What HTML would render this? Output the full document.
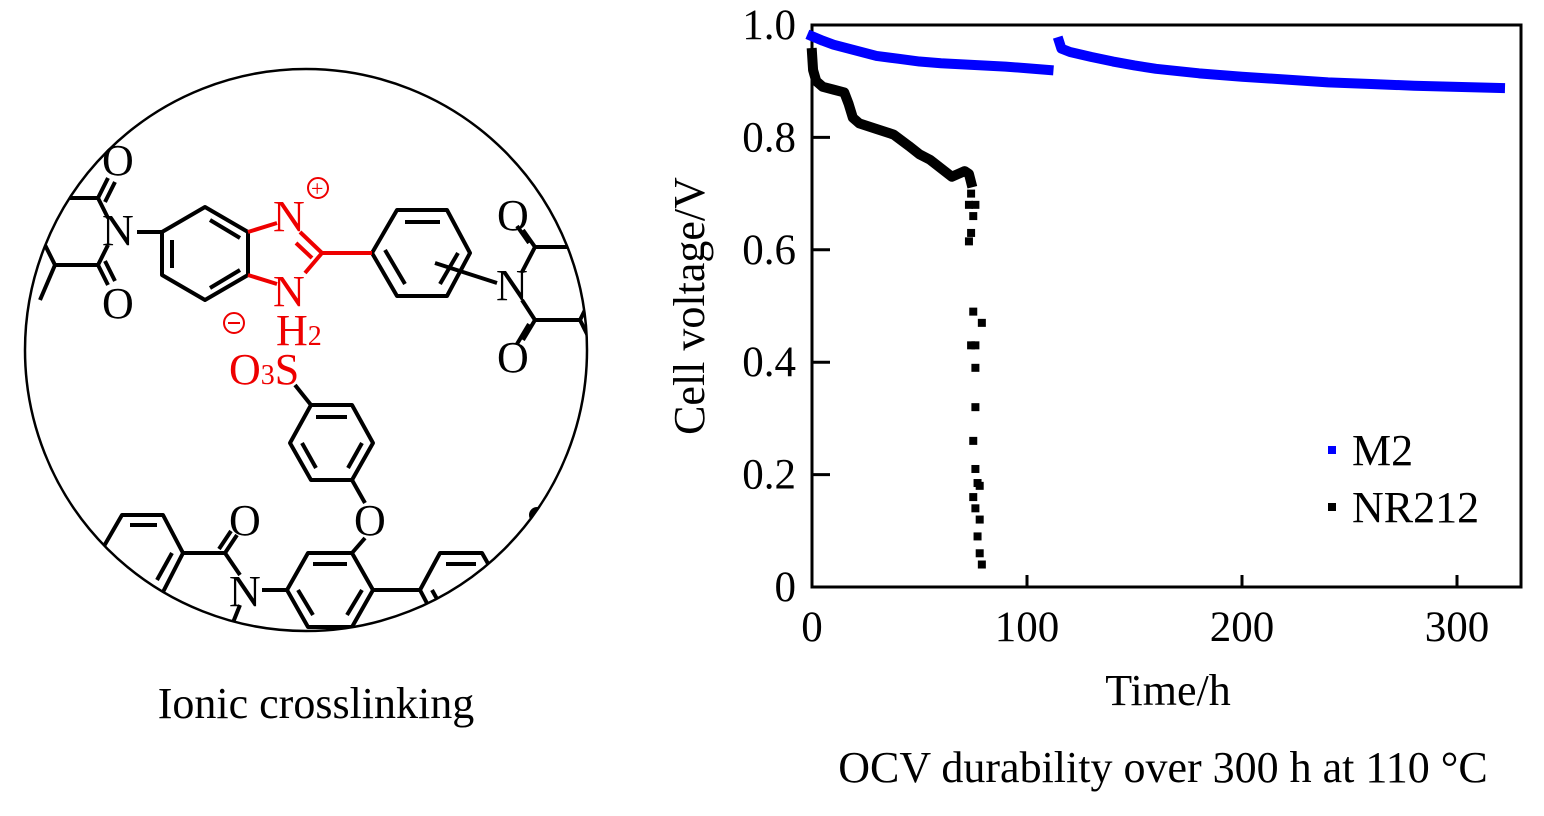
<!DOCTYPE html>
<html><head><meta charset="utf-8"><style>
body{margin:0;background:#fff;width:1544px;height:816px;overflow:hidden}
svg{position:absolute;left:0;top:0}
text{font-family:"Liberation Serif",serif}
</style></head><body>
<svg width="1544" height="816">
<defs><clipPath id="cc"><circle cx="306" cy="350" r="281"/></clipPath></defs>
<g>
<circle cx="306" cy="350" r="281" fill="none" stroke="#000" stroke-width="2.5"/>
<g clip-path="url(#cc)" stroke="#000" stroke-width="4" fill="none" stroke-linejoin="round">
<polygon points="205,207 248,232 248,275 205,300 162,275 162,232"/>
<line x1="210" y1="220" x2="240" y2="238"/><line x1="210" y1="288" x2="240" y2="270"/><line x1="172" y1="240" x2="172" y2="268"/>
<line x1="137" y1="232" x2="162" y2="232"/>
<line x1="108" y1="218" x2="98" y2="198"/><line x1="98" y1="198" x2="65" y2="198"/><line x1="98" y1="198" x2="108" y2="178"/><line x1="105" y1="202" x2="115" y2="182"/>
<line x1="108" y1="245" x2="98" y2="265"/><line x1="98" y1="265" x2="55" y2="265"/><line x1="98" y1="265" x2="108" y2="285"/><line x1="105" y1="261" x2="115" y2="281"/>
<line x1="55" y1="265" x2="40" y2="300"/><line x1="45" y1="245" x2="55" y2="265"/>
<polygon points="372,253 397,210 447,210 470,253 447,296 397,296"/>
<line x1="405" y1="222" x2="440" y2="222"/><line x1="405" y1="284" x2="385" y2="250"/><line x1="458" y1="253" x2="440" y2="284"/>
<line x1="435" y1="263" x2="497" y2="283"/>
<line x1="522" y1="272" x2="535" y2="247"/><line x1="535" y1="247" x2="575" y2="247"/><line x1="535" y1="247" x2="523" y2="230"/><line x1="529" y1="243" x2="517" y2="226"/>
<line x1="522" y1="300" x2="535" y2="320"/><line x1="535" y1="320" x2="580" y2="320"/><line x1="535" y1="320" x2="523" y2="340"/><line x1="529" y1="324" x2="517" y2="344"/>
<line x1="580" y1="320" x2="590" y2="300"/><line x1="580" y1="320" x2="590" y2="340"/>
<line x1="295" y1="385" x2="311" y2="405"/>
<polygon points="311,405 352,405 373,443 352,480 311,480 290,443"/>
<line x1="316" y1="417" x2="347" y2="417"/><line x1="302" y1="443" x2="316" y2="468"/><line x1="362" y1="443" x2="348" y2="468"/>
<line x1="352" y1="480" x2="365" y2="503"/><line x1="365" y1="538" x2="352" y2="553"/>
<polygon points="308,553 352,553 373,590 352,627 308,627 287,590"/>
<line x1="313" y1="564" x2="347" y2="564"/><line x1="298" y1="590" x2="313" y2="615"/><line x1="362" y1="590" x2="347" y2="615"/>
<line x1="262" y1="590" x2="287" y2="590"/>
<line x1="240" y1="575" x2="225" y2="553"/><line x1="225" y1="553" x2="183" y2="553"/><line x1="225" y1="553" x2="237" y2="535"/><line x1="219" y1="549" x2="231" y2="531"/>
<polygon points="183,553 163,515 122,515 100,553 122,592 163,592"/>
<line x1="130" y1="525" x2="157" y2="525"/><line x1="172" y1="553" x2="157" y2="580"/>
<line x1="240" y1="605" x2="232" y2="625"/>
<line x1="373" y1="590" x2="420" y2="590"/>
<polygon points="420,590 440,553 482,553 503,590 482,628 440,628"/>
<line x1="446" y1="564" x2="476" y2="564"/><line x1="432" y1="590" x2="446" y2="615"/>
<circle cx="537" cy="515" r="6" fill="#000"/>
</g>
<g stroke="#e00" stroke-width="4" fill="none">
<line x1="248" y1="232" x2="277" y2="223"/><line x1="248" y1="275" x2="277" y2="284"/>
<line x1="300" y1="232" x2="322" y2="253"/><line x1="296" y1="243" x2="312" y2="258"/>
<line x1="322" y1="253" x2="372" y2="253"/><line x1="322" y1="253" x2="305" y2="273"/>
</g>
<g font-size="44" fill="#000">
<text x="102" y="175">O</text>
<text x="102" y="245">N</text>
<text x="102" y="318">O</text>
<text x="497" y="230">O</text>
<text x="496" y="300">N</text>
<text x="497" y="372">O</text>
<text x="354" y="535">O</text>
<text x="229" y="535">O</text>
<text x="229" y="606">N</text>
</g>
<g fill="#e00" font-size="44">
<text x="273" y="231">N</text>
<text x="273" y="306">N</text>
<text x="276" y="345">H<tspan font-size="28">2</tspan></text>
<text x="229" y="384">O<tspan font-size="28">3</tspan>S</text>
<circle cx="318" cy="188" r="10" fill="none" stroke="#e00" stroke-width="2"/><text x="311" y="196" font-size="22">+</text>
<circle cx="234" cy="323" r="10" fill="none" stroke="#e00" stroke-width="2"/><line x1="228" y1="323" x2="240" y2="323" stroke="#e00" stroke-width="2"/>
</g>
<text x="316" y="718" font-size="44" text-anchor="middle">Ionic crosslinking</text>
</g>
<g id="chart"></g>
<text x="1163" y="782" font-size="44" text-anchor="middle">OCV durability over 300 h at 110 °C</text>
</svg>
<script>
const xTicks=[0,100,200,300];
const yTicks=[0,0.2,0.4,0.6,0.8,1.0];
const yTickLabels=["0","0.2","0.4","0.6","0.8","1.0"];
const m2Seg1T=[0,5,10,20,30,40,50,60,70,80,90,100,110];
const m2Seg1V=[0.98,0.972,0.965,0.955,0.945,0.94,0.935,0.932,0.93,0.928,0.926,0.923,0.92];
const m2Seg2T=[115,116,120,130,140,150,160,170,180,200,220,240,260,280,300,320];
const m2Seg2V=[0.97,0.958,0.952,0.943,0.935,0.928,0.922,0.918,0.914,0.908,0.903,0.898,0.895,0.892,0.89,0.888];
const nrLineT=[0,0.5,2,5,10,15,17,19,22,30,38,45,50,55,60,65,68,71,73,74];
const nrLineV=[0.95,0.92,0.9,0.89,0.885,0.88,0.86,0.835,0.825,0.815,0.805,0.785,0.77,0.76,0.745,0.73,0.735,0.74,0.735,0.72];
const nrScatT=[74,73,76,75,74,73,75,79,74,76,76,76,75,76,77,78,75,76,78,77,78,79];
const nrScatV=[0.70,0.68,0.68,0.66,0.63,0.615,0.49,0.47,0.43,0.43,0.39,0.32,0.26,0.21,0.185,0.18,0.16,0.14,0.12,0.09,0.06,0.04];
const NS='http://www.w3.org/2000/svg';
const X0=812,X1=1521,Y0=587,Y1=25;
const xs=t=>X0+t*(1457-X0)/300;
const ys=v=>Y0-v*(Y0-Y1);
const g=document.getElementById('chart');
function mk(tag,a){const e=document.createElementNS(NS,tag);for(const k in a)e.setAttribute(k,a[k]);g.appendChild(e);return e;}
const fr=mk('rect',{x:X0,y:Y1,width:X1-X0,height:Y0-Y1,fill:'none',stroke:'#000','stroke-width':3});


xTicks.forEach(t=>{
 const l=mk('line',{x1:xs(t),x2:xs(t),y1:Y0,y2:Y0-12,stroke:'#000','stroke-width':3});
 
 
 const tx=mk('text',{x:xs(t),y:Y0+54,'font-size':43,'text-anchor':'middle'});tx.textContent=t;
 
 
});
yTicks.forEach((v,i)=>{
 const l=mk('line',{x1:X0,x2:X0+18,y1:ys(v),y2:ys(v),stroke:'#000','stroke-width':3});
 
 
 const tx=mk('text',{x:796,y:ys(v)+14,'font-size':43,'text-anchor':'end'});tx.textContent=yTickLabels[i];
 
 
});
const xt=mk('text',{x:1168,y:705,'font-size':44,'text-anchor':'middle'});xt.textContent='Time/h';


const yt=mk('text',{x:0,y:0,'font-size':44,'text-anchor':'middle',transform:'translate(704,306) rotate(-90)'});yt.textContent='Cell voltage/V';


function line(T,V,c,name){
 const p=mk('polyline',{points:T.map((t,i)=>xs(t)+','+ys(V[i])).join(' '),fill:'none',stroke:c,'stroke-width':10,'stroke-linejoin':'round','stroke-linecap':'square'});
 
 
}
line(m2Seg1T,m2Seg1V,'#00f','m2-series-part1');
line(m2Seg2T,m2Seg2V,'#00f','m2-series-part2');
line(nrLineT,nrLineV,'#000','nr212-series');
nrScatT.forEach((t,i)=>{
 const r=mk('rect',{x:xs(t)-4,y:ys(nrScatV[i])-4,width:8,height:8,fill:'#000'});
 
 
});
[['M2','#00f',450],['NR212','#000',507]].forEach(([n,c,y])=>{
 const r=mk('rect',{x:1328,y:y-4,width:8,height:8,fill:c});
 
 
 const t=mk('text',{x:1352,y:y+15,'font-size':44});t.textContent=n;
 
 
});
</script>
</body></html>
